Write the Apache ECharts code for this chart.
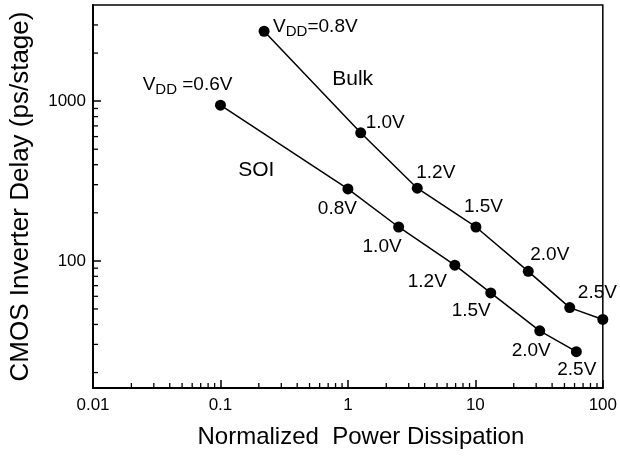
<!DOCTYPE html>
<html>
<head>
<meta charset="utf-8">
<script src="https://cdn.jsdelivr.net/npm/echarts@6/dist/echarts.min.js"></script>
<style>
  html, body { margin: 0; padding: 0; background: #fff; }
  #chart { width: 620px; height: 457px; }
</style>
</head>
<body>
<div id="chart"></div>
<script>
// data (log-log)
var bulkPower = [0.22, 1.26, 3.5, 10.1, 26, 55, 100];
var bulkDelay = [2740, 634, 285, 163, 86, 51, 43];
var bulkText = ['VDD=0.8V', '1.0V', '1.2V', '1.5V', '2.0V', '', '2.5V'];

var soiPower = [0.1, 1.0, 2.5, 6.9, 13.2, 32, 62];
var soiDelay = [944, 282, 163, 94, 63, 36.5, 27];
var soiText = ['VDD =0.6V', '0.8V', '1.0V', '1.2V', '1.5V', '2.0V', '2.5V'];

var xTickLabels = ['0.01', '0.1', '1', '10', '100'];
var yTickLabels = ['100', '1000'];

// label placement (pixels from the dot)
var bulkLabelPos = [[9, -4], [5, -10], [-1, -15], [-12, -20], [2, -17], [0, 0], [-25, -27]];
var soiLabelPos = [[12, -20], [9, 20], [3, 20], [-8, 17], [0, 18], [11, 20], [20, 18]];

var xMin = 0.01, xMax = 100, yMin = 16, yMax = 4000;
var font = 'Liberation Sans, Arial, Helvetica, sans-serif';
var tickColor = '#000';

// minor tick positions 2..9 per decade
function minorTicks(lo, hi) {
  var out = [];
  for (var d = Math.floor(Math.log10(lo)); d < Math.ceil(Math.log10(hi)); d++) {
    for (var k = 2; k <= 9; k++) {
      var v = k * Math.pow(10, d);
      if (v > lo && v < hi) out.push(v);
    }
  }
  return out;
}
var minorX = minorTicks(xMin, xMax);
var minorY = minorTicks(yMin, yMax);

function richLabel(t) {
  if (t.indexOf('VDD') === 0) {
    return '{v|V}{s|DD}{v|' + t.slice(3) + '}';
  }
  return '{v|' + t + '}';
}

var rich = {
  v: { fontSize: 19, color: '#000', fontFamily: font },
  s: { fontSize: 15, color: '#000', fontFamily: font, padding: [10, 0, 0, 0] }
};

function buildData(xs, ys, texts, pos, align) {
  return xs.map(function (x, i) {
    return {
      value: [x, ys[i]],
      label: {
        show: texts[i] !== '',
        formatter: richLabel(texts[i]),
        position: 'inside',
        align: align,
        verticalAlign: 'middle',
        offset: pos[i],
        rich: rich
      }
    };
  });
}

function tickFormatter(list) {
  return function (v) {
    var s = String(+v.toPrecision(3));
    return list.indexOf(s) >= 0 ? s : '';
  };
}

var myChart = echarts.init(document.getElementById('chart'));

var option = {
  backgroundColor: '#fff',
  animation: false,
  textStyle: { fontFamily: font },
  grid: {
    left: 92, right: 17, top: 5, bottom: 69,
    show: true, borderColor: '#000', borderWidth: 1.5
  },
  xAxis: {
    type: 'log',
    min: xMin,
    max: xMax,
    name: 'Normalized  Power Dissipation',
    nameLocation: 'middle',
    nameGap: 37,
    nameTextStyle: { fontSize: 24, color: '#000', fontFamily: font, padding: [0, 0, 0, 26] },
    axisLine: { show: true, lineStyle: { color: '#000', width: 2 } },
    axisTick: { show: true, inside: true, length: 8, lineStyle: { color: tickColor, width: 1.5 } },
    axisLabel: { fontSize: 17, color: '#000', margin: 9, formatter: tickFormatter(xTickLabels) },
    splitLine: { show: false }
  },
  yAxis: {
    type: 'log',
    min: yMin,
    max: yMax,
    name: 'CMOS Inverter Delay (ps/stage)',
    nameLocation: 'middle',
    nameGap: 59,
    nameTextStyle: { fontSize: 26, color: '#000', fontFamily: font },
    axisLine: { show: true, lineStyle: { color: '#000', width: 2 } },
    axisTick: { show: true, inside: true, length: 8, lineStyle: { color: tickColor, width: 1.5 } },
    axisLabel: { fontSize: 17, color: '#000', margin: 7, formatter: tickFormatter(yTickLabels),
                 showMinLabel: false, showMaxLabel: false },
    splitLine: { show: false }
  },
  series: [
    {
      name: 'Bulk',
      type: 'line',
      symbol: 'circle',
      symbolSize: 11,
      lineStyle: { color: '#000', width: 1.5 },
      itemStyle: { color: '#000' },
      data: buildData(bulkPower, bulkDelay, bulkText, bulkLabelPos, 'left'),
      markPoint: {
        symbol: 'circle',
        symbolSize: 0,
        label: { show: true, formatter: 'Bulk', fontSize: 21, color: '#000', fontFamily: font },
        data: [{ coord: [1.09, 1373] }]
      },
      z: 3
    },
    {
      name: 'SOI',
      type: 'line',
      symbol: 'circle',
      symbolSize: 11,
      lineStyle: { color: '#000', width: 1.5 },
      itemStyle: { color: '#000' },
      data: buildData(soiPower, soiDelay, soiText, soiLabelPos, 'right'),
      markPoint: {
        symbol: 'circle',
        symbolSize: 0,
        label: { show: true, formatter: 'SOI', fontSize: 21, color: '#000', fontFamily: font },
        data: [{ coord: [0.191, 370] }]
      },
      z: 3
    },
    {
      // minor ticks on the x axis
      type: 'custom',
      data: minorX.map(function (v) { return [v, yMin]; }),
      renderItem: function (params, api) {
        var p = api.coord([api.value(0), api.value(1)]);
        return { type: 'line', shape: { x1: p[0], y1: p[1], x2: p[0], y2: p[1] - 5 },
                 style: { stroke: tickColor, lineWidth: 1.3 } };
      }
    },
    {
      // minor ticks on the y axis
      type: 'custom',
      data: minorY.map(function (v) { return [xMin, v]; }),
      renderItem: function (params, api) {
        var p = api.coord([api.value(0), api.value(1)]);
        return { type: 'line', shape: { x1: p[0], y1: p[1], x2: p[0] + 5, y2: p[1] },
                 style: { stroke: tickColor, lineWidth: 1.3 } };
      }
    }
  ]
};

myChart.setOption(option);
</script>
</body>
</html>
